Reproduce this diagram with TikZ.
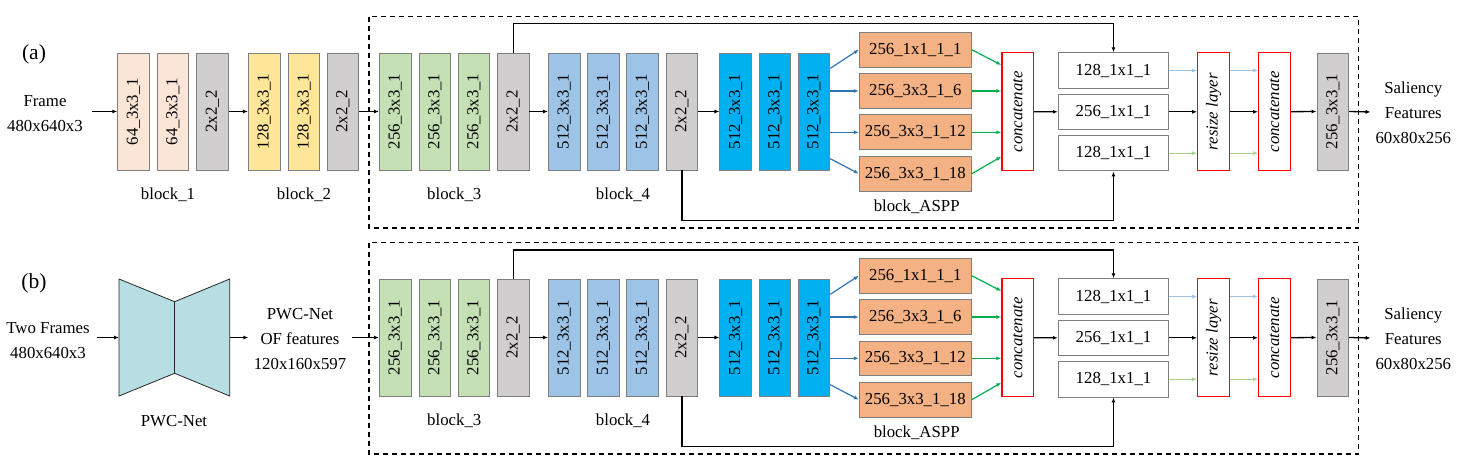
\documentclass[tikz,border=0pt]{standalone}
\usepackage{fontspec}
\setmainfont{Liberation Serif}
\usepackage{graphicx}
\usetikzlibrary{arrows.meta}
\definecolor{peach}{HTML}{FBE5D6}
\definecolor{laygray}{HTML}{D0CECE}
\definecolor{yel}{HTML}{FFE699}
\definecolor{grn}{HTML}{C5E0B4}
\definecolor{lblue}{HTML}{9DC3E6}
\definecolor{cyanb}{HTML}{00B0F0}
\definecolor{orng}{HTML}{F4B183}
\definecolor{boxgray}{HTML}{7F7F7F}
\definecolor{arrblue}{HTML}{2E75B6}
\definecolor{arrgreen}{HTML}{00B050}
\definecolor{arrlblue}{HTML}{9DC3E6}
\definecolor{arrlgreen}{HTML}{A9D18E}
\definecolor{teal}{HTML}{B7DEE3}
\newcommand\myfont{\rmfamily\fontsize{16.8}{25}\selectfont}
\newcommand\vt[1]{\rotatebox{90}{#1}}
\tikzset{
  lay/.style={draw=boxgray, line width=0.9pt, minimum width=31.6pt, minimum height=117pt, inner sep=0pt, font=\myfont},
  obox/.style={draw=boxgray, line width=0.9pt, fill=orng, minimum width=112pt, minimum height=34.7pt, inner sep=0pt, font=\myfont},
  wbox/.style={draw=boxgray, line width=0.9pt, fill=white, minimum width=110.4pt, minimum height=35.5pt, inner sep=0pt, font=\myfont},
  rbox/.style={draw=red, line width=1.2pt, fill=white, minimum width=31.6pt, minimum height=118pt, inner sep=0pt, font=\myfont\itshape},
  txt/.style={font=\myfont, align=center, inner sep=0pt},
  tag/.style={font=\rmfamily\fontsize{21.5}{25}\selectfont, inner sep=0pt},
  conn/.style={line width=1.3pt, -{Latex[length=5pt,width=4pt]}},
  cblue/.style={conn, draw=arrblue, line width=1.2pt, -{Latex[length=5pt,width=4pt,color=arrblue]}},
  cgreen/.style={conn, draw=arrgreen, line width=1.2pt, -{Latex[length=5pt,width=4pt,color=arrgreen]}},
  clblue/.style={conn, draw=arrlblue, line width=1.2pt, -{Latex[length=5pt,width=4pt,color=arrlblue]}},
  clgreen/.style={conn, draw=arrlgreen, line width=1.2pt, -{Latex[length=5pt,width=4pt,color=arrlgreen]}},
  dashbox/.style={draw, line width=1.3pt, dash pattern=on 5pt off 4pt},
}
\newcommand\pipeline[2]{%
\begin{scope}[shift={(0,#2)}]
  \draw[dashbox] (369,16.7) rectangle (1358.7,228);
  \node[lay, fill=grn] (#1g1) at (395.2,111.5) {\vt{256\_3x3\_1}};
  \node[lay, fill=grn] (#1g2) at (435,111.5) {\vt{256\_3x3\_1}};
  \node[lay, fill=grn] (#1g3) at (474,111.5) {\vt{256\_3x3\_1}};
  \node[lay, fill=laygray] (#1p1) at (513.2,111.5) {\vt{2x2\_2}};
  \node[lay, fill=lblue] (#1l1) at (564.2,111.5) {\vt{512\_3x3\_1}};
  \node[lay, fill=lblue] (#1l2) at (603.3,111.5) {\vt{512\_3x3\_1}};
  \node[lay, fill=lblue] (#1l3) at (642.5,111.5) {\vt{512\_3x3\_1}};
  \node[lay, fill=laygray] (#1p2) at (681.9,111.5) {\vt{2x2\_2}};
  \node[lay, fill=cyanb] (#1c1) at (735.7,111.5) {\vt{512\_3x3\_1}};
  \node[lay, fill=cyanb] (#1c2) at (774.8,111.5) {\vt{512\_3x3\_1}};
  \node[lay, fill=cyanb] (#1c3) at (814,111.5) {\vt{512\_3x3\_1}};
  \node[obox] (#1o1) at (915.3,49.7) {256\_1x1\_1\_1};
  \node[obox] (#1o2) at (915.3,91) {256\_3x3\_1\_6};
  \node[obox] (#1o3) at (915.3,132.3) {256\_3x3\_1\_12};
  \node[obox] (#1o4) at (915.3,173.7) {256\_3x3\_1\_18};
  \node[rbox] (#1cat1) at (1017.7,111.7) {\vt{concatenate}};
  \node[wbox] (#1w1) at (1113.5,70.5) {128\_1x1\_1};
  \node[wbox] (#1w2) at (1113.5,111.8) {256\_1x1\_1};
  \node[wbox] (#1w3) at (1113.5,153.2) {128\_1x1\_1};
  \node[rbox] (#1rs) at (1213.5,111.7) {\vt{resize layer}};
  \node[rbox] (#1cat2) at (1274.5,111.7) {\vt{concatenate}};
  \node[lay, fill=laygray] (#1gf) at (1332.8,111.5) {\vt{256\_3x3\_1}};
  \node[txt] (#1lb3) at (454.3,195) {block\_3};
  \node[txt] (#1lb4) at (623,195) {block\_4};
  \node[txt] (#1lbA) at (916.7,206.7) {block\_ASPP};
  \node[txt] (#1out) at (1413.3,112.3) {Saliency\\Features\\60x80x256};
  \coordinate (#1oute) at (1370.7,112);
  \draw[conn] (#1p1.east) -- (#1l1.west);
  \draw[conn] (#1p2.east) -- (#1c1.west);
  \draw[conn] (#1p1.north) -- ++(0,-28.7) -| (#1w1.north);
  \draw[conn] (#1p2.south) -- ++(0,50) -| (#1w3.south);
  \draw[cblue] ([yshift=43.2pt]#1c3.east) -- (#1o1.west);
  \draw[cblue] (#1c3.east |- #1o2.west) -- (#1o2.west);
  \draw[cblue] (#1c3.east |- #1o3.west) -- (#1o3.west);
  \draw[cblue] ([yshift=-47.2pt]#1c3.east) -- (#1o4.west);
  \draw[cgreen] (#1o1.east) -- ([yshift=46.7pt]#1cat1.west);
  \draw[cgreen] (#1o2.east) -- (#1cat1.west |- #1o2.east);
  \draw[cgreen] (#1o3.east) -- (#1cat1.west |- #1o3.east);
  \draw[cgreen] (#1o4.east) -- ([yshift=-45pt]#1cat1.west);
  \draw[conn] (#1cat1.east) -- (#1w2.west);
  \draw[clblue] (#1w1.east) -- (#1rs.west |- #1w1.east);
  \draw[clblue] (#1rs.east |- #1w1.east) -- (#1cat2.west |- #1w1.east);
  \draw[conn] (#1w2.east) -- (#1rs.west |- #1w2.east);
  \draw[conn] (#1rs.east |- #1w2.east) -- (#1cat2.west |- #1w2.east);
  \draw[clgreen] (#1w3.east) -- (#1rs.west |- #1w3.east);
  \draw[clgreen] (#1rs.east |- #1w3.east) -- (#1cat2.west |- #1w3.east);
  \draw[conn] (#1cat2.east) -- (#1gf.west);
  \draw[conn] (#1gf.east) -- (#1oute);
\end{scope}}
\begin{document}
\begin{tikzpicture}[x=1pt, y=-1pt]
\useasboundingbox (0,0) rectangle (1470,468);
% panel (a)
\node[tag] (la) at (34,54) {(a)};
\node[txt] (inA) at (45,114) {Frame\\480x640x3};
\coordinate (inAe) at (92,111.5);
\node[lay, fill=peach] (a1) at (133.5,111.5) {\vt{64\_3x3\_1}};
\node[lay, fill=peach] (a2) at (172.8,111.5) {\vt{64\_3x3\_1}};
\node[lay, fill=laygray] (a3) at (212.4,111.5) {\vt{2x2\_2}};
\node[lay, fill=yel] (b1) at (264.2,111.5) {\vt{128\_3x3\_1}};
\node[lay, fill=yel] (b2) at (304,111.5) {\vt{128\_3x3\_1}};
\node[lay, fill=laygray] (b3) at (343,111.5) {\vt{2x2\_2}};
\node[txt] (lb1) at (168,195) {block\_1};
\node[txt] (lb2) at (304,195) {block\_2};
\pipeline{A}{0}
\draw[conn] (inAe) -- (a1.west);
\draw[conn] (a3.east) -- (b1.west);
\draw[conn] (b3.east) -- (Ag1.west);
% panel (b)
\node[tag] (lbb) at (34,283) {(b)};
\node[txt] (inB) at (48,340.5) {Two Frames\\480x640x3};
\coordinate (inBe) at (96.7,337.5);
\coordinate (pwcL) at (119,337.5);
\coordinate (pwcR) at (229.7,337.5);
\draw[fill=teal, draw=black!85, line width=0.8pt] (119,279) -- (174.7,301.7) -- (229.7,279) -- (229.7,396) -- (174.7,373.3) -- (119,396) -- cycle;
\draw[draw=black!85, line width=0.8pt] (174.7,301.7) -- (174.7,373.3);
\node[txt] (pwclab) at (174,420.7) {PWC-Net};
\coordinate (ofin) at (248.3,337.5);
\node[txt] (of) at (300,339) {PWC-Net\\OF features\\120x160x597};
\coordinate (ofout) at (351.7,337.5);
\pipeline{B}{226}
\draw[conn] (inBe) -- (pwcL);
\draw[conn] (pwcR) -- (ofin);
\draw[conn] (ofout) -- (Bg1.west);
\end{tikzpicture}
\end{document}
